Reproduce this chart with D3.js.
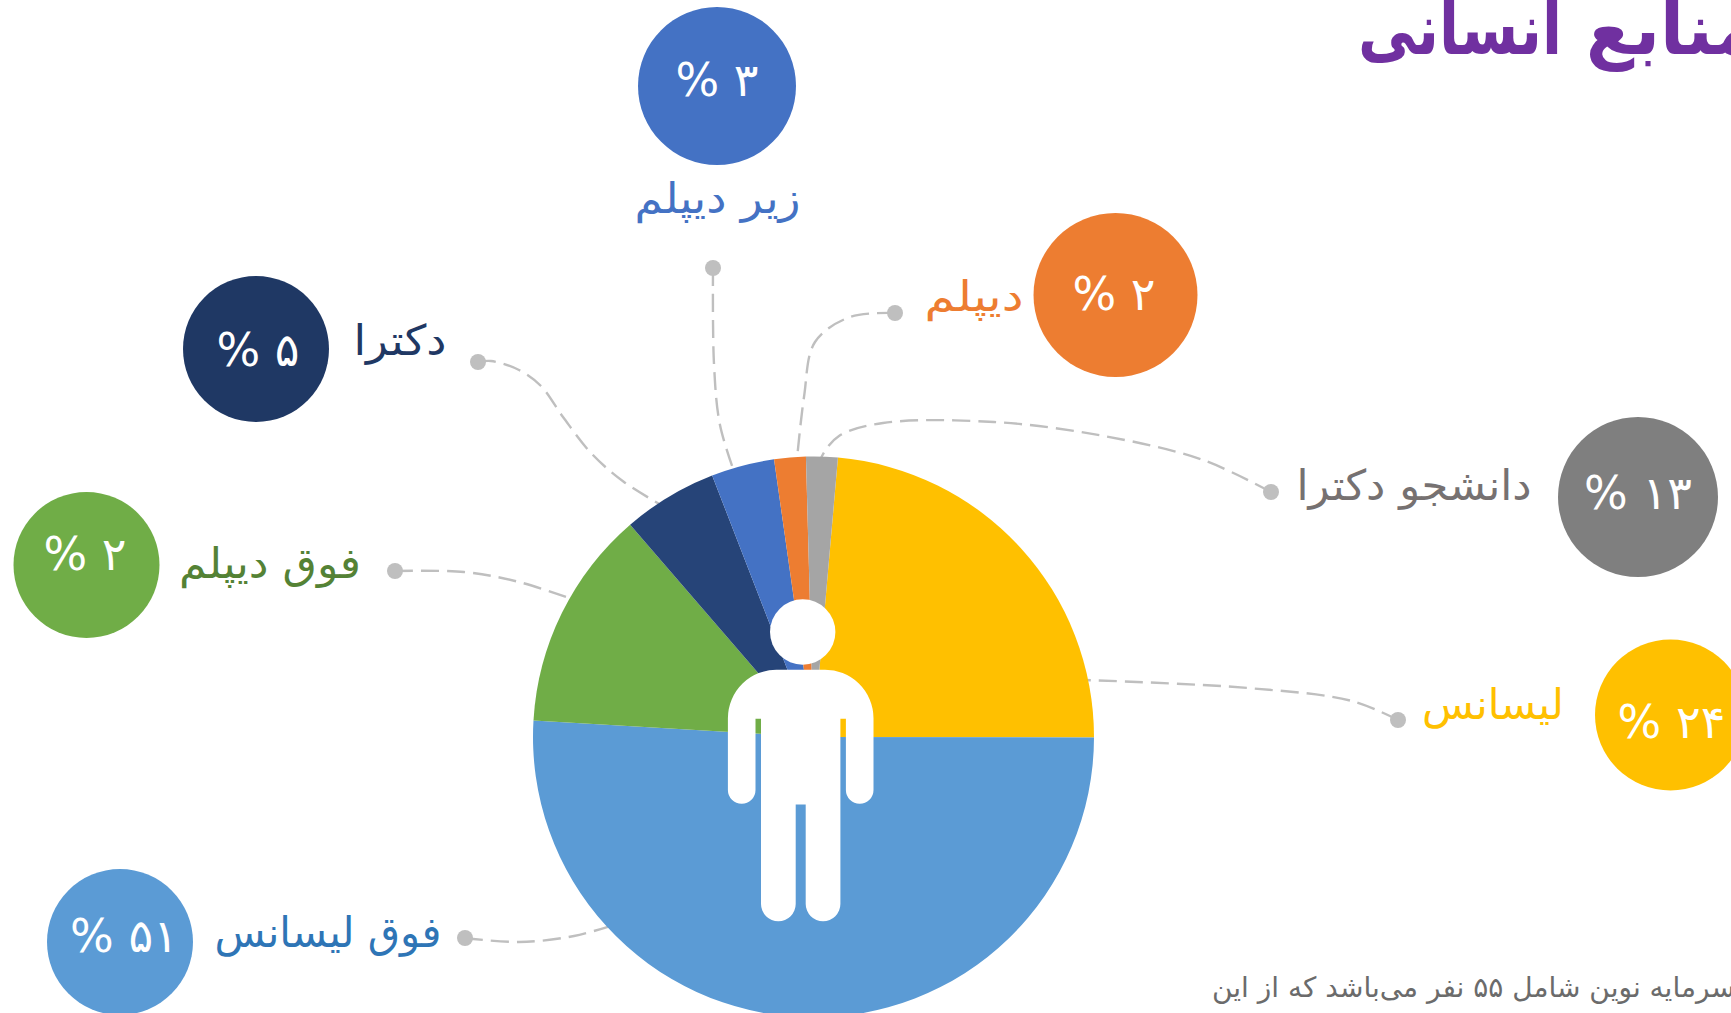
<!DOCTYPE html>
<html lang="fa">
<head>
<meta charset="utf-8">
<title>منابع انسانی</title>
<script src="https://cdn.jsdelivr.net/npm/d3@7"></script>
<style>
    html, body { margin: 0; padding: 0; background: #fff; overflow: hidden; }
    text { font-family: "DejaVu Sans", sans-serif; direction: rtl; }
</style>
</head>
<body>
<div id="chart"></div>
<script>
// Data: head count out of the 55 people, in the order the slices run clockwise
const sliceValues = [13, 28, 7, 3, 2, 1, 1];
const sliceColors = ["#FFC000", "#5B9BD5", "#70AD47", "#264478", "#4472C4", "#ED7D31", "#A5A5A5"];

// Callouts, same order as the slices. The labels are what the picture prints
const calloutNames = ["لیسانس", "فوق لیسانس", "فوق دیپلم", "دکترا", "زیر دیپلم", "دیپلم", "دانشجو دکترا"];
const calloutPercents = ["۲۴ %", "۵۱ %", "۲ %", "۵ %", "۳ %", "۲ %", "۱۳ %"];
const bubbleColors = ["#FFC000", "#5B9BD5", "#70AD47", "#1F3864", "#4472C4", "#ED7D31", "#7F7F7F"];
const nameColors = ["#FFC000", "#2E75B6", "#548235", "#1F3864", "#4472C4", "#ED7D31", "#767171"];

// Layout of the callouts
const bubbleX = [1670.5, 120, 86.5, 256, 717, 1115.5, 1638];
const bubbleY = [715, 942, 565, 349, 86, 295, 497];
const bubbleR = [75.5, 73, 73, 73, 79, 82, 80];
const percentX = [1671.5, 124, 85, 258, 717, 1114, 1638];
const percentY = [738, 952, 570, 366, 96, 310, 509];
const nameX = [1493, 328, 270, 400, 717.5, 974, 1414];
const nameY = [719, 947, 578, 355, 213, 311, 500];
const nameWidths = [142, 227, 182, 93, 166, 99, 235];
const leaderPaths = [
    [[1398, 720], [1352, 701], [1248, 688], [1085, 680]],
    [[465, 938], [519, 942], [574, 936], [620, 923]],
    [[395, 571], [464, 572], [519, 582], [575, 600]],
    [[478, 362], [491, 361], [519, 370], [541, 386], [563, 417], [591, 453], [624, 482], [670, 510]],
    [[713, 268], [714, 364], [720, 425], [737, 480]],
    [[895, 313], [850, 317], [815, 342], [804, 397], [796, 470]],
    [[1271, 492], [1203, 460], [1104, 436], [994, 422], [883, 423], [839, 436], [822, 456], [818, 470]]
];

// The title words are drawn apart: the second one is squeezed to its width in the picture
const titleWords = ["انسانی", "منابع"];
const titleX = [1358, 1586];
const titleWidths = [204, 172];
const noteText = "سرمایه نوین شامل ۵۵ نفر می‌باشد که از این";

const width = 1731;
const height = 1013;
const pieX = 813.5;
const pieY = 737;
const pieR = 280.5;

const svg = d3.select("#chart")
    .append("svg")
    .attr("width", width)
    .attr("height", height)
    .style("display", "block");

// Dashed leader lines with their dots, they run in under the pie
const leader = d3.line().curve(d3.curveCatmullRom.alpha(0.5));

svg.append("g")
    .selectAll("path")
    .data(leaderPaths)
    .join("path")
    .attr("d", leader)
    .attr("fill", "none")
    .attr("stroke", "#BFBFBF")
    .attr("stroke-width", 2.4)
    .attr("stroke-dasharray", "18 8");

svg.append("g")
    .selectAll("circle")
    .data(leaderPaths)
    .join("circle")
    .attr("cx", d => d[0][0])
    .attr("cy", d => d[0][1])
    .attr("r", 8)
    .attr("fill", "#BFBFBF");

// Pie
const pie = d3.pie()
    .sort(null)
    .startAngle(5 * Math.PI / 180)
    .endAngle(365 * Math.PI / 180);
const arc = d3.arc().innerRadius(0).outerRadius(pieR);

svg.append("g")
    .attr("transform", `translate(${pieX},${pieY})`)
    .selectAll("path")
    .data(pie(sliceValues))
    .join("path")
    .attr("d", arc)
    .attr("fill", (d, i) => sliceColors[i]);

// White figure on top of the pie
const person = svg.append("g")
    .attr("transform", `translate(${pieX - 13.5},0)`)
    .attr("fill", "#fff");

person.append("circle")
    .attr("cx", 2.7)
    .attr("cy", 632)
    .attr("r", 32.7);

// Only half of the body is described, the other half is mirrored around x = 0
const halfBody = side => [
    `M0,669.8`,
    `H${side * 23}`,
    `A48.5,48.5 0 0 ${side > 0 ? 1 : 0} ${side * 72.8},718.3`,
    `V790`,
    `A13.8,13.8 0 0 ${side > 0 ? 1 : 0} ${side * 45.2},790`,
    `V718.8`,
    `H${side * 39.7}`,
    `V903.9`,
    `A17.3,17.3 0 0 ${side > 0 ? 1 : 0} ${side * 5},903.9`,
    `V804.5`,
    `H0`,
    `Z`
].join(" ");

person.append("path")
    .attr("transform", "translate(0.7,0)")
    .attr("d", halfBody(1) + " " + halfBody(-1));

// Bubbles
svg.append("g")
    .selectAll("circle")
    .data(bubbleX)
    .join("circle")
    .attr("cx", d => d)
    .attr("cy", (d, i) => bubbleY[i])
    .attr("r", (d, i) => bubbleR[i])
    .attr("fill", (d, i) => bubbleColors[i]);

svg.append("g")
    .selectAll("text")
    .data(calloutPercents)
    .join("text")
    .attr("x", (d, i) => percentX[i])
    .attr("y", (d, i) => percentY[i])
    .attr("text-anchor", "middle")
    .attr("fill", "#fff")
    .style("font-size", "46px")
    .text(d => d);

// Names next to the bubbles
svg.append("g")
    .selectAll("text")
    .data(calloutNames)
    .join("text")
    .attr("x", (d, i) => nameX[i])
    .attr("y", (d, i) => nameY[i])
    .attr("text-anchor", "middle")
    .attr("textLength", (d, i) => nameWidths[i])
    .attr("lengthAdjust", "spacingAndGlyphs")
    .attr("fill", (d, i) => nameColors[i])
    .style("font-size", "42px")
    .text(d => d);

// Title and note both run off the right edge
svg.append("g")
    .selectAll("text")
    .data(titleWords)
    .join("text")
    .attr("x", (d, i) => titleX[i])
    .attr("y", 54)
    .attr("text-anchor", "end")
    .attr("textLength", (d, i) => titleWidths[i])
    .attr("lengthAdjust", "spacingAndGlyphs")
    .attr("fill", "#7030A0")
    .style("font-size", "72px")
    .style("font-weight", "bold")
    .text(d => d);

svg.append("text")
    .attr("x", 1212)
    .attr("y", 997)
    .attr("text-anchor", "end")
    .attr("fill", "#6B6B6B")
    .style("font-size", "28px")
    .text(noteText);
</script>
</body>
</html>
